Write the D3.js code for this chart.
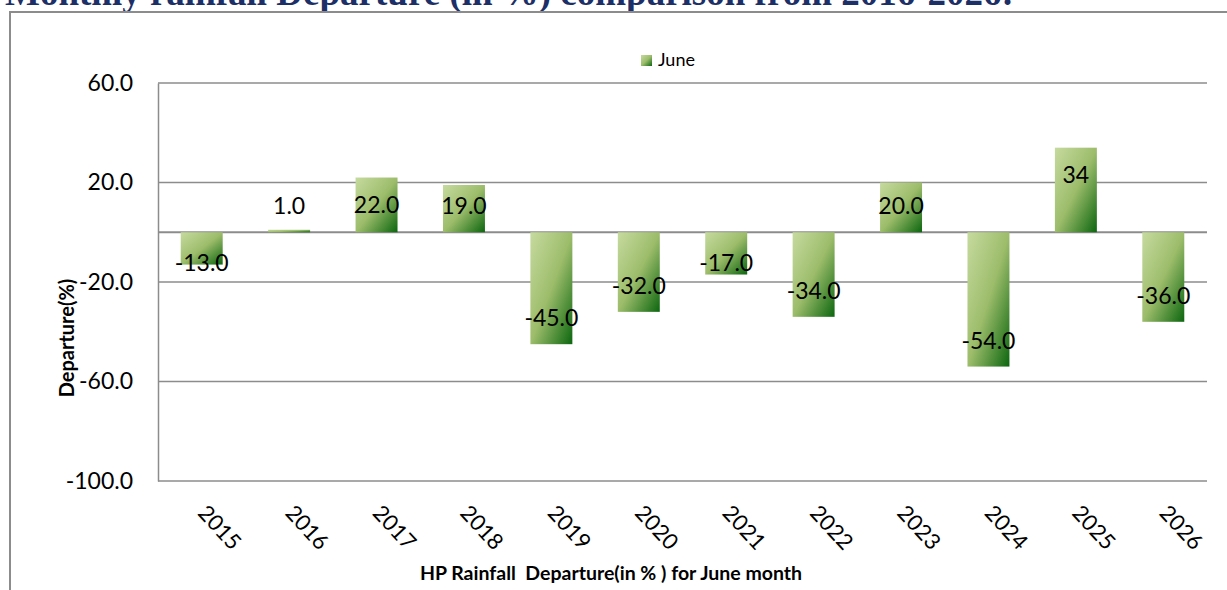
<!DOCTYPE html>
<html>
<head>
<meta charset="utf-8">
<script src="https://cdn.jsdelivr.net/npm/d3@7"></script>
<style>
  body { margin: 0; background: #fff; }
  svg { display: block; }
</style>
</head>
<body>
<div id="chart"></div>
<script>
var svgWidth = 1227;
var svgHeight = 590;

// data
var years = ["2015", "2016", "2017", "2018", "2019", "2020", "2021", "2022", "2023", "2024", "2025", "2026"];
var juneDeparture = [-13, 1, 22, 19, -45, -32, -17, -34, 20, -54, 34, -36];
var labelText = ["-13.0", "1.0", "22.0", "19.0", "-45.0", "-32.0", "-17.0", "-34.0", "20.0", "-54.0", "34", "-36.0"];
var yTicks = [60, 20, -20, -60, -100];

var margin = { top: 83, right: 20, bottom: 109, left: 158 };
var width = 1207 - margin.left;
var height = 481 - margin.top;

var svg = d3.select("#chart")
  .append("svg")
  .attr("width", svgWidth)
  .attr("height", svgHeight);

var defs = svg.append("defs");
var grad = defs.append("linearGradient")
  .attr("id", "barGrad")
  .attr("x1", 0).attr("y1", 0)
  .attr("x2", 1).attr("y2", 1);
grad.append("stop").attr("offset", "0%").attr("stop-color", "#c6da9f");
grad.append("stop").attr("offset", "50%").attr("stop-color", "#9dbd6b");
grad.append("stop").attr("offset", "100%").attr("stop-color", "#0c660f");

// title (cut off at the top of the picture, as in the source)
svg.append("text")
  .attr("x", 5)
  .attr("y", 5)
  .attr("font-family", "Liberation Serif")
  .attr("font-weight", "bold")
  .attr("font-size", 37)
  .attr("fill", "#1c2f66")
  .text("Monthly rainfall Departure (in %) comparison from 2016-2026:");

// chart frame
svg.append("path")
  .attr("d", "M10,600 V12 H1240")
  .attr("fill", "none")
  .attr("stroke", "#8c8c8c")
  .attr("stroke-width", 2);

var chartGroup = svg.append("g")
  .attr("transform", `translate(${margin.left}, ${margin.top})`);

var xBandScale = d3.scaleBand()
  .domain(years)
  .range([0, width])
  .paddingInner(0.52)
  .paddingOuter(0.26);

var yLinearScale = d3.scaleLinear()
  .domain([-100, 60])
  .range([height, 0]);

// gridlines
chartGroup.append("g")
  .selectAll("line")
  .data(yTicks)
  .enter()
  .append("line")
  .attr("x1", 0)
  .attr("x2", width)
  .attr("y1", d => yLinearScale(d))
  .attr("y2", d => yLinearScale(d))
  .attr("stroke", "#8c8c8c")
  .attr("stroke-width", 1.5);

// zero line
chartGroup.append("line")
  .attr("x1", 0)
  .attr("x2", width)
  .attr("y1", yLinearScale(0))
  .attr("y2", yLinearScale(0))
  .attr("stroke", "#8c8c8c")
  .attr("stroke-width", 2);

// y axis
var leftAxis = d3.axisLeft(yLinearScale)
  .tickValues(yTicks)
  .tickSize(0)
  .tickPadding(25)
  .tickFormat(d => d.toFixed(1));

var yAxisG = chartGroup.append("g").call(leftAxis);
yAxisG.select(".domain").attr("stroke", "#8c8c8c").attr("stroke-width", 1.5);
yAxisG.selectAll("text")
  .attr("font-family", "Lato")
  .attr("font-size", 23)
  .attr("fill", "#000");

// bars
chartGroup.append("g")
  .selectAll("rect")
  .data(juneDeparture)
  .enter()
  .append("rect")
  .attr("x", (d, i) => xBandScale(years[i]))
  .attr("y", d => yLinearScale(Math.max(d, 0)))
  .attr("width", xBandScale.bandwidth())
  .attr("height", d => Math.abs(yLinearScale(d) - yLinearScale(0)))
  .attr("fill", "url(#barGrad)");

// data labels
var y0 = yLinearScale(0);
chartGroup.append("g")
  .selectAll("text")
  .data(juneDeparture)
  .enter()
  .append("text")
  .attr("x", (d, i) => xBandScale(years[i]) + xBandScale.bandwidth() / 2)
  .attr("y", d => d >= 0 ? Math.min(yLinearScale(d) + 27, y0 - 27) : Math.max(yLinearScale(d) - 26, y0 + 30))
  .attr("dy", "0.36em")
  .attr("text-anchor", "middle")
  .attr("font-family", "Lato")
  .attr("font-size", 23)
  .attr("fill", "#000")
  .text((d, i) => labelText[i]);

// x tick labels, rotated
chartGroup.append("g")
  .selectAll("text")
  .data(years)
  .enter()
  .append("text")
  .attr("transform", d => `translate(${xBandScale(d) + xBandScale.bandwidth() / 2 - 5}, ${height + 33}) rotate(47)`)
  .attr("text-anchor", "start")
  .attr("font-family", "Lato")
  .attr("font-size", 22)
  .attr("fill", "#000")
  .text(d => d);

// axis titles
svg.append("text")
  .attr("transform", "translate(74, 338) rotate(-90)")
  .attr("text-anchor", "middle")
  .attr("font-family", "Lato")
  .attr("font-weight", "bold")
  .attr("font-size", 20)
  .attr("fill", "#000")
  .text("Departure(%)");

svg.append("text")
  .attr("x", 611)
  .attr("y", 580)
  .attr("text-anchor", "middle")
  .attr("font-family", "Lato")
  .attr("font-weight", "bold")
  .attr("font-size", 19.5)
  .attr("fill", "#000")
  .attr("xml:space", "preserve")
  .text("HP Rainfall  Departure(in % ) for June month");

// legend
var legend = svg.append("g").attr("transform", "translate(641, 55)");
legend.append("rect")
  .attr("width", 11)
  .attr("height", 11)
  .attr("fill", "url(#barGrad)");
legend.append("text")
  .attr("x", 17)
  .attr("y", 11)
  .attr("font-family", "Lato")
  .attr("font-size", 18)
  .attr("fill", "#000")
  .text("June");
</script>
</body>
</html>
